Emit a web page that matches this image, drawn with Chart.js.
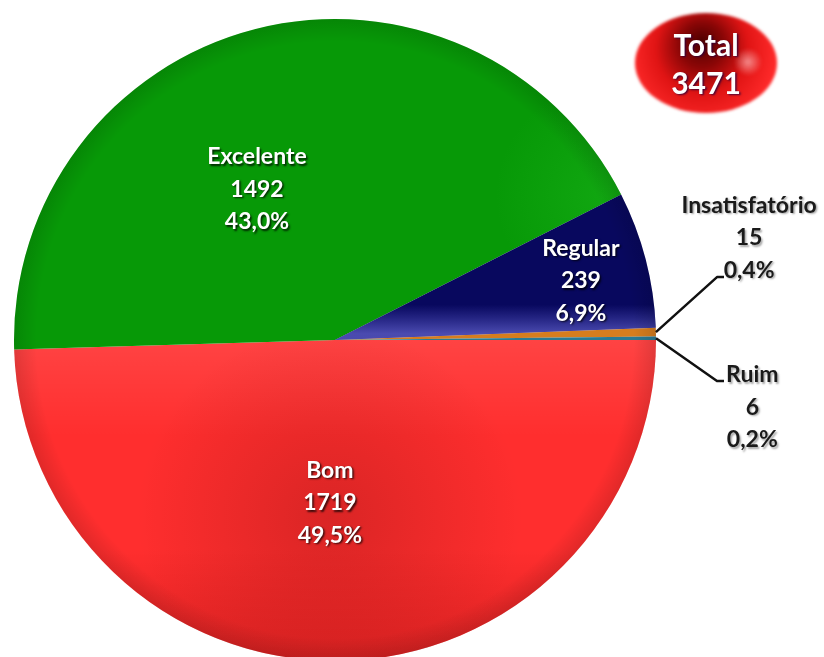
<!DOCTYPE html>
<html>
<head>
<meta charset="utf-8">
<script src="https://cdn.jsdelivr.net/npm/chart.js@4.4.1/dist/chart.umd.min.js"></script>
<style>
  html, body { margin: 0; padding: 0; background: #ffffff; overflow: hidden; }
  #wrap { width: 824px; height: 657px; overflow: hidden; }
  canvas { display: block; }
</style>
</head>
<body>
<div id="wrap"><canvas id="pie" width="824" height="680"></canvas></div>
<script>
// Avaliação: respostas por categoria
const categories = ['Bom', 'Excelente', 'Regular', 'Insatisfatório', 'Ruim'];
const counts = [1719, 1492, 239, 15, 6];
const totalLabel = 'Total';

const baseColors = ['#ff2e2e', '#079907', '#08085e', '#d67d1e', '#2a7a93'];
const total = counts.reduce((a, b) => a + b, 0);

const LABEL_FONT = 'bold 23px Lato, "Open Sans", sans-serif';
const LINE_GAP = 32.5;

// label anchor (middle line), given relative to the pie centre in radius units
const labelAnchors = [
  { dx: -0.016, dy: 0.508, inside: true },   // Bom
  { dx: -0.243, dy: -0.469, inside: true },  // Excelente
  { dx: 0.766, dy: -0.184, inside: true },   // Regular
  { dx: 1.29, dy: -0.318, inside: false, elbow: { dx: 1.190, dy: -0.196 } },  // Insatisfatório
  { dx: 1.30, dy: 0.209, inside: false, elbow: { dx: 1.190, dy: 0.128 } }     // Ruim
];

function pct(v) {
  return (v / total * 100).toFixed(1).replace('.', ',') + '%';
}

function clipArc(ctx, a) {
  ctx.beginPath();
  ctx.moveTo(a.x, a.y);
  ctx.arc(a.x, a.y, a.outerRadius, a.startAngle, a.endAngle);
  ctx.closePath();
  ctx.clip();
}

// soft shading laid over each slice
const shading = {
  id: 'shading',
  afterDatasetDraw(chart) {
    const ctx = chart.ctx;
    const arcs = chart.getDatasetMeta(0).data;
    arcs.forEach((a, i) => {
      const cx = a.x, cy = a.y, r = a.outerRadius;
      ctx.save();
      clipArc(ctx, a);
      if (i === 0) {
        let g = ctx.createLinearGradient(0, cy, 0, cy + r * 0.3);
        g.addColorStop(0, 'rgba(255,255,255,0.10)');
        g.addColorStop(1, 'rgba(255,255,255,0)');
        ctx.fillStyle = g; ctx.fillRect(cx - r, cy, 2 * r, r);
        g = ctx.createRadialGradient(cx - 5, cy + r * 0.55, 0, cx - 5, cy + r * 0.55, r * 0.6);
        g.addColorStop(0, 'rgba(110,10,10,0.26)');
        g.addColorStop(0.6, 'rgba(110,10,10,0.10)');
        g.addColorStop(1, 'rgba(110,10,10,0)');
        ctx.fillStyle = g; ctx.fillRect(cx - r, cy, 2 * r, r);
        g = ctx.createLinearGradient(0, cy + r * 0.65, 0, cy + r);
        g.addColorStop(0, 'rgba(120,0,0,0)');
        g.addColorStop(1, 'rgba(120,0,0,0.25)');
        ctx.fillStyle = g; ctx.fillRect(cx - r, cy, 2 * r, r);
      } else if (i === 1) {
        const g = ctx.createRadialGradient(cx + r * 0.85, cy - r * 0.45, 0, cx + r * 0.85, cy - r * 0.45, r * 0.35);
        g.addColorStop(0, 'rgba(40,200,40,0.30)');
        g.addColorStop(1, 'rgba(40,200,40,0)');
        ctx.fillStyle = g; ctx.fillRect(cx - r, cy - r, 2 * r, 2 * r);
      } else if (i === 2) {
        const g = ctx.createLinearGradient(0, cy - r * 0.11, 0, cy - r * 0.02);
        g.addColorStop(0, 'rgba(100,100,220,0)');
        g.addColorStop(1, 'rgba(115,115,225,0.62)');
        ctx.fillStyle = g; ctx.fillRect(cx, cy - r, r, r);
      }
      // darker rim
      const rim = ctx.createRadialGradient(cx, cy, r * 0.93, cx, cy, r);
      rim.addColorStop(0, 'rgba(0,0,0,0)');
      rim.addColorStop(1, 'rgba(0,0,0,0.12)');
      ctx.fillStyle = rim; ctx.fillRect(cx - r, cy - r, 2 * r, 2 * r);
      ctx.restore();
    });
  }
};

// value labels, leader lines and the total badge
const annotations = {
  id: 'annotations',
  afterDraw(chart) {
    const ctx = chart.ctx;
    const arcs = chart.getDatasetMeta(0).data;
    const a0 = arcs[0];
    const cx = a0.x, cy = a0.y, r = a0.outerRadius;

    arcs.forEach((a, i) => {
      const p = labelAnchors[i];
      const lx = cx + p.dx * r, ly = cy + p.dy * r;
      if (!p.inside) {
        const mid = (a.startAngle + a.endAngle) / 2;
        const sx = cx + Math.cos(mid) * r, sy = cy + Math.sin(mid) * r;
        const ex = cx + p.elbow.dx * r, ey = cy + p.elbow.dy * r;
        ctx.save();
        ctx.strokeStyle = '#111111';
        ctx.lineWidth = 2.5;
        ctx.lineJoin = 'round';
        ctx.beginPath();
        ctx.moveTo(sx, sy);
        ctx.lineTo(ex, ey);
        ctx.lineTo(ex + 7, ey);
        ctx.stroke();
        ctx.restore();
      }
      const lines = [categories[i], String(counts[i]), pct(counts[i])];
      ctx.save();
      ctx.font = LABEL_FONT;
      ctx.textAlign = 'center';
      ctx.textBaseline = 'middle';
      if (p.inside) {
        ctx.fillStyle = '#ffffff';
        ctx.shadowColor = 'rgba(0,0,0,0.75)';
      } else {
        ctx.fillStyle = '#1a1a1a';
        ctx.shadowColor = 'rgba(0,0,0,0.35)';
      }
      ctx.shadowOffsetX = 1.5;
      ctx.shadowOffsetY = 1.5;
      ctx.shadowBlur = 2;
      lines.forEach((t, k) => ctx.fillText(t, lx, ly + (k - 1) * LINE_GAP));
      ctx.restore();
    });

    // total badge
    const bx = 706, by = 63, rx = 71, ry = 50;
    ctx.save();
    ctx.filter = 'blur(1.5px)';
    ctx.beginPath();
    ctx.ellipse(bx, by, rx, ry, 0, 0, Math.PI * 2);
    const g = ctx.createRadialGradient(bx - 4, by - 22, 0, bx - 4, by - 10, rx * 1.05);
    g.addColorStop(0, '#4e0000');
    g.addColorStop(0.3, '#8a0606');
    g.addColorStop(0.62, '#e01414');
    g.addColorStop(1, '#ff2a2a');
    ctx.fillStyle = g;
    ctx.fill();
    const h = ctx.createRadialGradient(bx + 42, by - 1, 0, bx + 42, by - 1, 14);
    h.addColorStop(0, 'rgba(255,215,215,0.6)');
    h.addColorStop(1, 'rgba(255,215,215,0)');
    ctx.fillStyle = h;
    ctx.fill();
    ctx.restore();

    ctx.save();
    ctx.font = 'bold 30px Lato, "Open Sans", sans-serif';
    ctx.textAlign = 'center';
    ctx.textBaseline = 'middle';
    ctx.fillStyle = '#ffffff';
    ctx.shadowColor = 'rgba(40,0,60,0.8)';
    ctx.shadowOffsetX = 1.5;
    ctx.shadowOffsetY = 1.5;
    ctx.shadowBlur = 2;
    ctx.fillText(totalLabel, bx, by - 17);
    ctx.fillText(String(total), bx, by + 21);
    ctx.restore();
  }
};

new Chart(document.getElementById('pie'), {
  type: 'pie',
  data: {
    labels: categories,
    datasets: [{
      data: counts,
      backgroundColor: baseColors,
      borderWidth: 0
    }]
  },
  options: {
    responsive: false,
    animation: false,
    rotation: 90,
    layout: { padding: { left: 14, right: 168, top: 19, bottom: 19 } },
    plugins: {
      legend: { display: false },
      tooltip: { enabled: false }
    }
  },
  plugins: [shading, annotations]
});
</script>
</body>
</html>
